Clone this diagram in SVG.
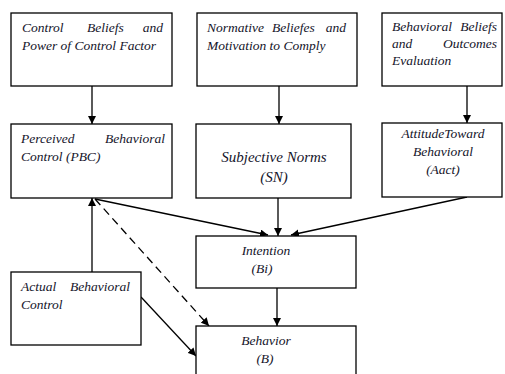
<svg xmlns="http://www.w3.org/2000/svg" width="505" height="374" viewBox="0 0 505 374">
<style>
rect{fill:#fff;stroke:#000;stroke-width:1.3}
text{font-family:"Liberation Serif","Times New Roman",serif;font-style:italic;font-size:13.5px;fill:#14142a}
.big{font-size:15px}
.c{stroke:#000;stroke-width:1.3;fill:none}
.d{stroke-dasharray:8,5}
</style>
<defs>
<marker id="ah" viewBox="0 0 10 10" refX="10" refY="5" markerWidth="8" markerHeight="8" markerUnits="userSpaceOnUse" orient="auto">
<path d="M0,0 L10,5 L0,10 z" fill="#000"/>
</marker>
</defs>
<rect x="0" y="0" width="505" height="374" style="stroke:none"/>
<g id="connectors">
<line class="c" x1="92" y1="86" x2="92" y2="124" marker-end="url(#ah)"/>
<line class="c" x1="279" y1="86" x2="279" y2="124" marker-end="url(#ah)"/>
<line class="c" x1="467" y1="86" x2="467" y2="123" marker-end="url(#ah)"/>
<line class="c" x1="278" y1="198" x2="278" y2="236" marker-end="url(#ah)"/>
<line class="c" x1="95" y1="199" x2="268" y2="235" marker-end="url(#ah)"/>
<line class="c" x1="467" y1="197" x2="291" y2="235" marker-end="url(#ah)"/>
<line class="c" x1="277" y1="288" x2="277" y2="326" marker-end="url(#ah)"/>
<line class="c" x1="92" y1="272" x2="92" y2="198" marker-end="url(#ah)"/>
<line class="c d" x1="95" y1="199" x2="209" y2="326" marker-end="url(#ah)"/>
<line class="c" x1="141" y1="297" x2="196" y2="356" marker-end="url(#ah)"/>
</g>
<g id="control-beliefs">
<rect x="11" y="13" width="161" height="73"/>
<text x="22" y="32">Control</text><text x="87" y="32">Beliefs</text><text x="163" y="32" text-anchor="end">and</text>
<text x="22" y="50">Power of Control Factor</text>
</g>
<g id="normative-beliefs">
<rect x="197" y="13" width="160" height="73"/>
<text x="207" y="32">Normative</text><text x="272" y="32">Beliefes</text><text x="346" y="32" text-anchor="end">and</text>
<text x="207" y="50">Motivation to Comply</text>
</g>
<g id="behavioral-beliefs">
<rect x="382" y="13" width="120" height="73"/>
<text x="392" y="31">Behavioral</text><text x="497" y="31" text-anchor="end">Beliefs</text>
<text x="392" y="48">and</text><text x="497" y="48" text-anchor="end">Outcomes</text>
<text x="392" y="65">Evaluation</text>
</g>
<g id="pbc">
<rect x="11" y="124" width="161" height="74"/>
<text x="21" y="143">Perceived</text><text x="165" y="143" text-anchor="end">Behavioral</text>
<text x="21" y="161">Control (PBC)</text>
</g>
<g id="sn">
<rect x="196" y="124" width="155" height="74"/>
<text class="big" x="274" y="162" text-anchor="middle">Subjective Norms</text>
<text class="big" x="274" y="182" text-anchor="middle">(SN)</text>
</g>
<g id="aact">
<rect x="382" y="123" width="120" height="74"/>
<text x="443" y="138" text-anchor="middle">AttitudeToward</text>
<text x="443" y="156" text-anchor="middle">Behavioral</text>
<text x="443" y="174" text-anchor="middle">(Aact)</text>
</g>
<g id="intention">
<rect x="196" y="236" width="160" height="52"/>
<text x="266" y="255" text-anchor="middle">Intention</text>
<text x="262" y="273" text-anchor="middle">(Bi)</text>
</g>
<g id="behavior">
<rect x="196" y="326" width="160" height="60"/>
<text x="266" y="345" text-anchor="middle">Behavior</text>
<text x="265" y="363" text-anchor="middle">(B)</text>
</g>
<g id="actual-control">
<rect x="11" y="272" width="130" height="73"/>
<text x="21" y="291">Actual</text><text x="130" y="291" text-anchor="end">Behavioral</text>
<text x="21" y="309">Control</text>
</g>
</svg>
